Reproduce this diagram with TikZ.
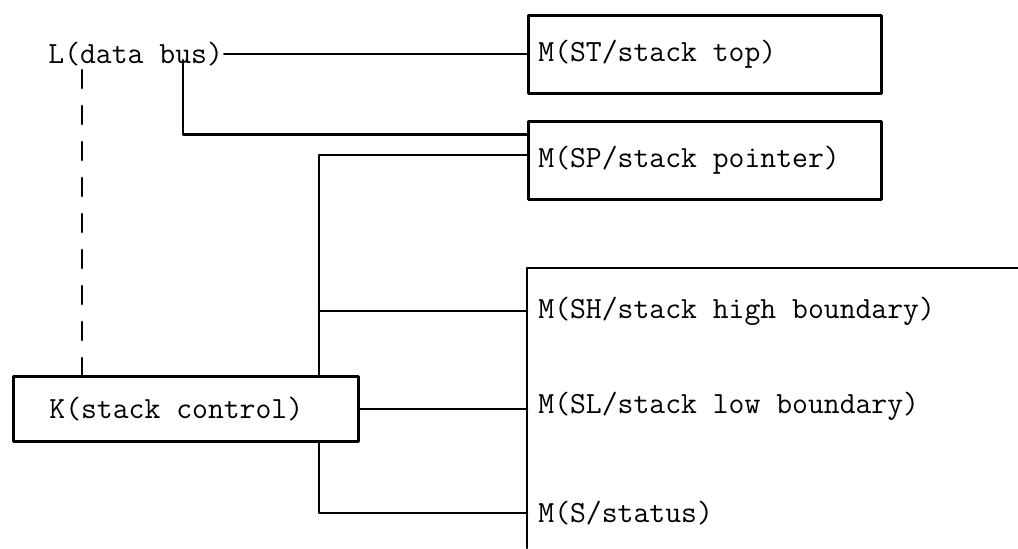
\documentclass[tikz,border=0pt]{standalone}
\usepackage{fontspec}
\usetikzlibrary{calc}

\begin{document}
\begin{tikzpicture}[
    x=0.025cm, y=-0.025cm,
    line width=2pt,
    line cap=round,
    line join=round,
    font=\ttfamily\fontsize{21.9}{24}\selectfont,
    mbox/.style={draw, anchor=north west, minimum width=8.825cm, minimum height=1.95cm},
    mlabel/.style={anchor=west, inner sep=0pt}
]
\useasboundingbox (0,0) rectangle (1018,548);

% 1. Data bus and stack registers
\node[mlabel] (bus) at (47,54) {L(data bus)};
\node[mbox] (st) at (527,14) {};
\node[mlabel] (sttext) at ([xshift=0.25cm]st.west) {M(ST/stack top)};
\node[mbox] (sp) at (527,120) {};
\node[mlabel] (sptext) at ([xshift=0.25cm]sp.west) {M(SP/stack pointer)};

% 2. Stack control
\node[draw, anchor=north west, minimum width=8.625cm, minimum height=1.625cm] (ctrl) at (12,375) {};
\node[mlabel] (ctrltext) at ([xshift=0.9cm]ctrl.west) {K(stack control)};

% 3. Boundary and status registers
\coordinate (fl) at (527,268);
\coordinate (fr) at (1018,268);
\coordinate (fb) at (527,548);
\draw (fr) -- (fl) -- (fb);
\node[mlabel] (sh) at (537,311) {M(SH/stack high boundary)};
\node[mlabel] (sl) at (537,406) {M(SL/stack low boundary)};
\node[mlabel] (ss) at (537,513) {M(S/status)};

% 4. Routing
\draw (bus.east) -- (bus.east -| st.west);
\coordinate (bb) at (183,60);
\draw (bb) |- ($(sp.north west)!0.18!(sp.south west)$);
\coordinate (tr) at (319,155);
\draw (sp.west |- tr) -- (tr) -- (tr |- ctrl.north);
\draw (tr |- sh.west) -- (fl |- sh.west);
\draw (ctrl.east) -- (fl |- ctrl.east);
\draw (tr |- ctrl.south) |- (fl |- ss.west);
\coordinate (lk) at (82,70);
\draw[dash pattern=on 12.8pt off 12.8pt] (lk) -- (lk |- ctrl.north);
\end{tikzpicture}
\end{document}
